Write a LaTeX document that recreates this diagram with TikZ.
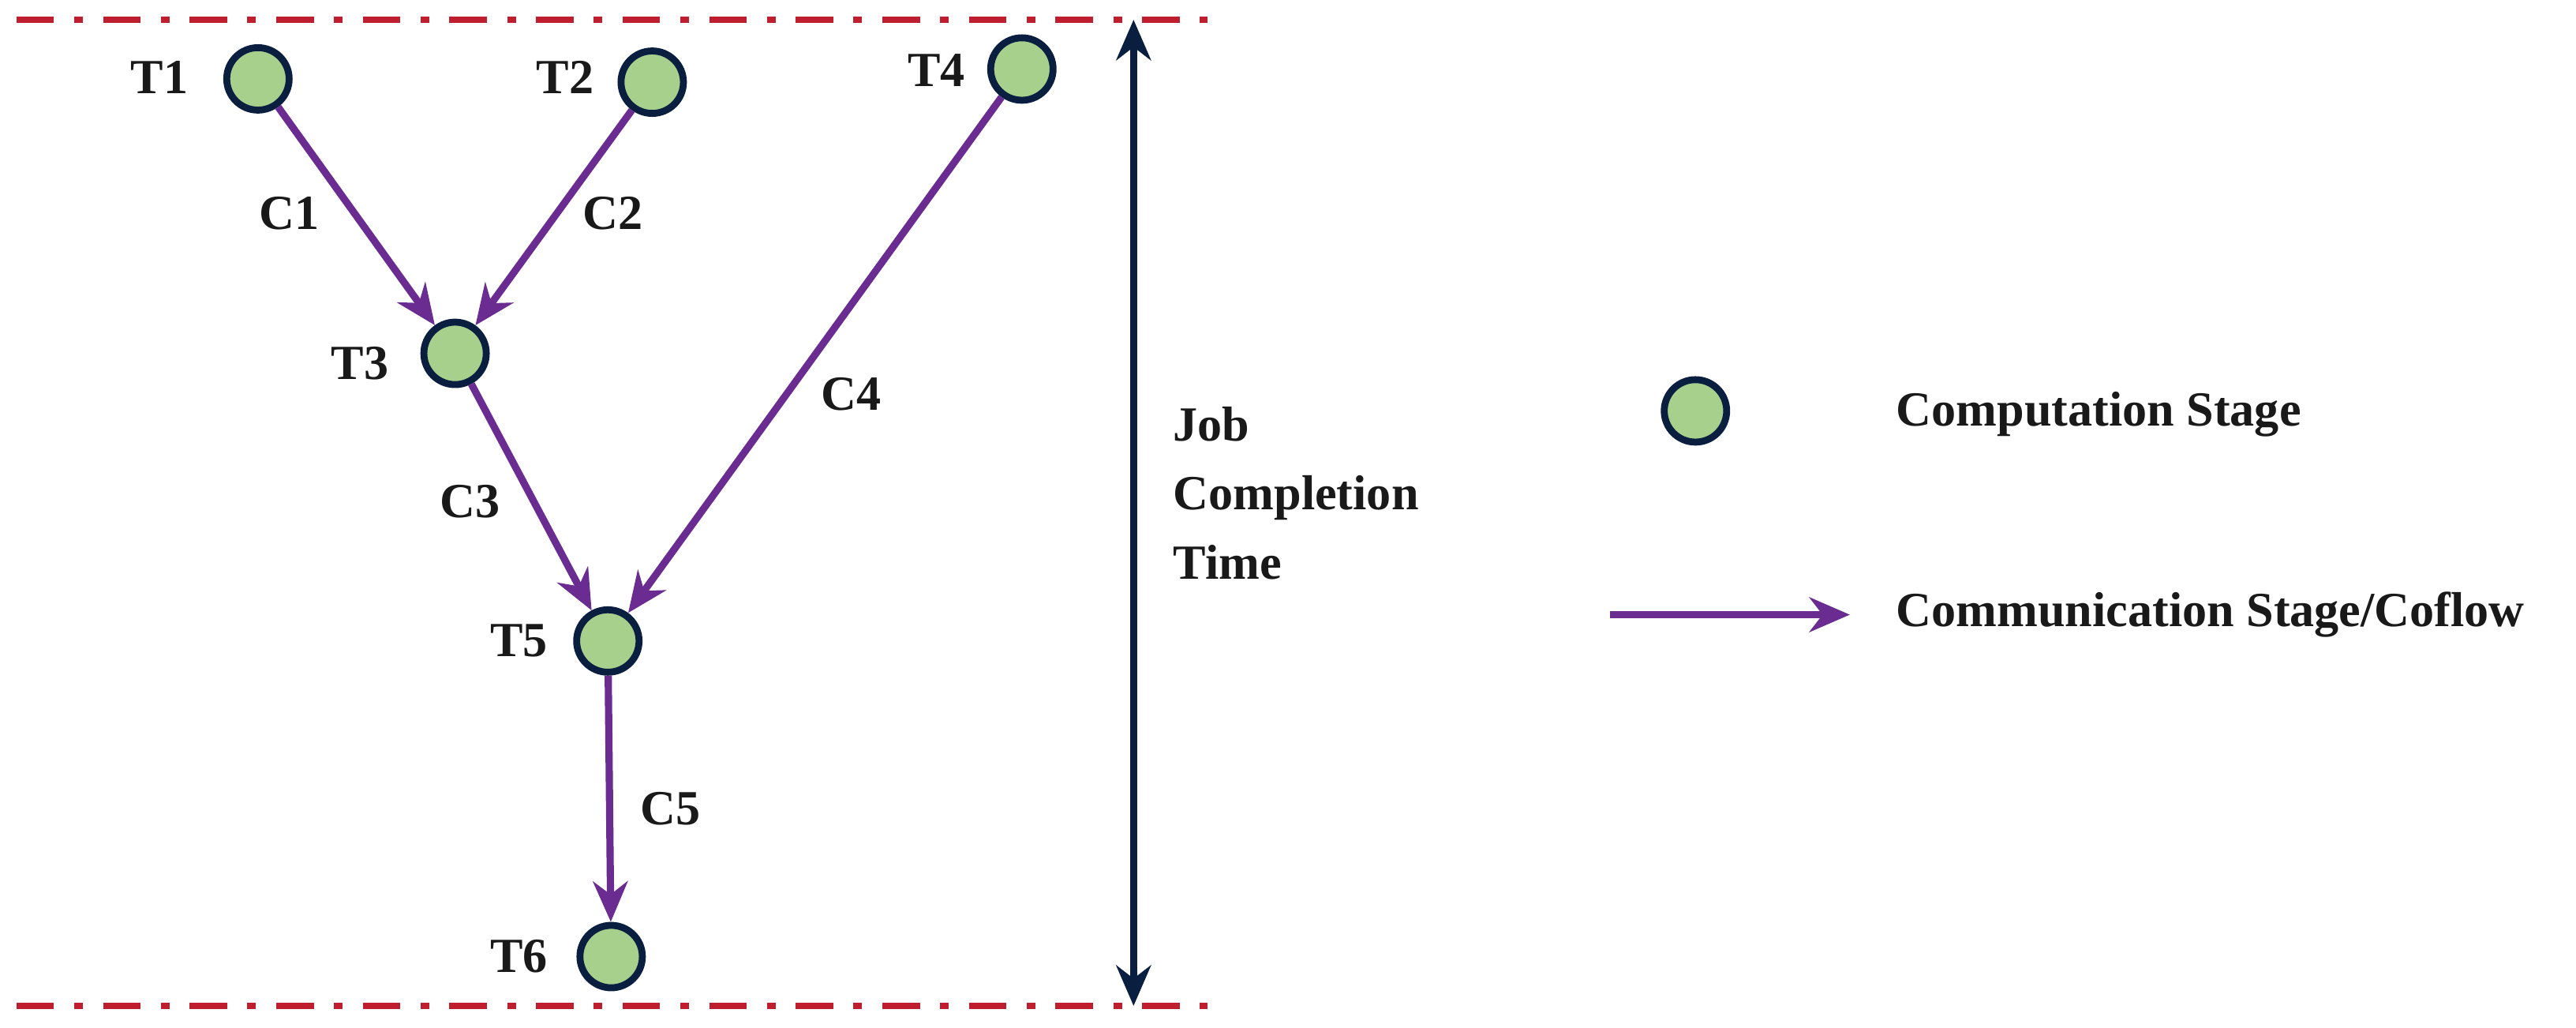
\documentclass[tikz,border=0pt]{standalone}
\usepackage{fontspec}
\setmainfont{Liberation Serif}
\usetikzlibrary{arrows.meta}
\definecolor{gfill}{HTML}{A8D08D}
\definecolor{navy}{HTML}{0A1F40}
\definecolor{purp}{HTML}{6A2C91}
\definecolor{dred}{HTML}{BE1E2D}
\begin{document}
\begin{tikzpicture}[x=0.02cm,y=-0.02cm,
  st/.style={circle,draw=navy,fill=gfill,line width=2.4pt,minimum size=0.76cm,inner sep=0},
  lb/.style={font=\fontsize{17}{20}\selectfont\bfseries,text=black!90},
  fl/.style={purp,line width=2.5pt,-{Stealth[length=14pt,width=12pt]}},
  bd/.style={dred,line width=2.4pt,dash pattern=on 13pt off 7pt on 3pt off 7pt}]
\useasboundingbox (0,0) rectangle (1568,625);
\node[st] (t1) at (157,48) {};
\node[st] (t2) at (397,50) {};
\node[st] (t4) at (622,42) {};
\node[st] (t3) at (277,215) {};
\node[st] (t5) at (370,390) {};
\node[st] (t6) at (372,582) {};
\node[lb] at (97,47) {T1};
\node[lb] at (344,47) {T2};
\node[lb] at (570,43) {T4};
\node[lb] at (219,221) {T3};
\node[lb] at (316,390) {T5};
\node[lb] at (316,582) {T6};
\draw[fl] (t1) -- (t3);
\draw[fl] (t2) -- (t3);
\draw[fl] (t3) -- (t5);
\draw[fl] (t4) -- (t5);
\draw[fl] (t5) -- (t6);
\node[lb] (c1) at (176,130) {C1};
\node[lb] (c2) at (373,130) {C2};
\node[lb] (c3) at (286,305) {C3};
\node[lb] (c4) at (518,240) {C4};
\node[lb] (c5) at (408,492) {C5};
\coordinate (la) at (10,12); \coordinate (lb1) at (735,12);
\coordinate (lc) at (10,612); \coordinate (ld) at (735,612);
\draw[bd] (la) -- (lb1);
\draw[bd] (lc) -- (ld);
\coordinate (at) at (690,12); \coordinate (ab) at (690,612);
\draw[navy,line width=2.4pt,{Stealth[length=14pt,width=12pt]}-{Stealth[length=14pt,width=12pt]}] (at) -- (ab);
\node[lb,anchor=west,align=left] (jct) at (708,300) {Job\\[4pt]Completion\\[4pt]Time};
\node[st] (leg) at (1032,250) {};
\node[lb,anchor=west] (legt) at (1148,252) {Computation Stage};
\coordinate (a1) at (980,374); \coordinate (a2) at (1126,374);
\draw[fl] (a1) -- (a2);
\node[lb,anchor=west] (legc) at (1148,374) {Communication Stage/Coflow};
\end{tikzpicture}
\end{document}
